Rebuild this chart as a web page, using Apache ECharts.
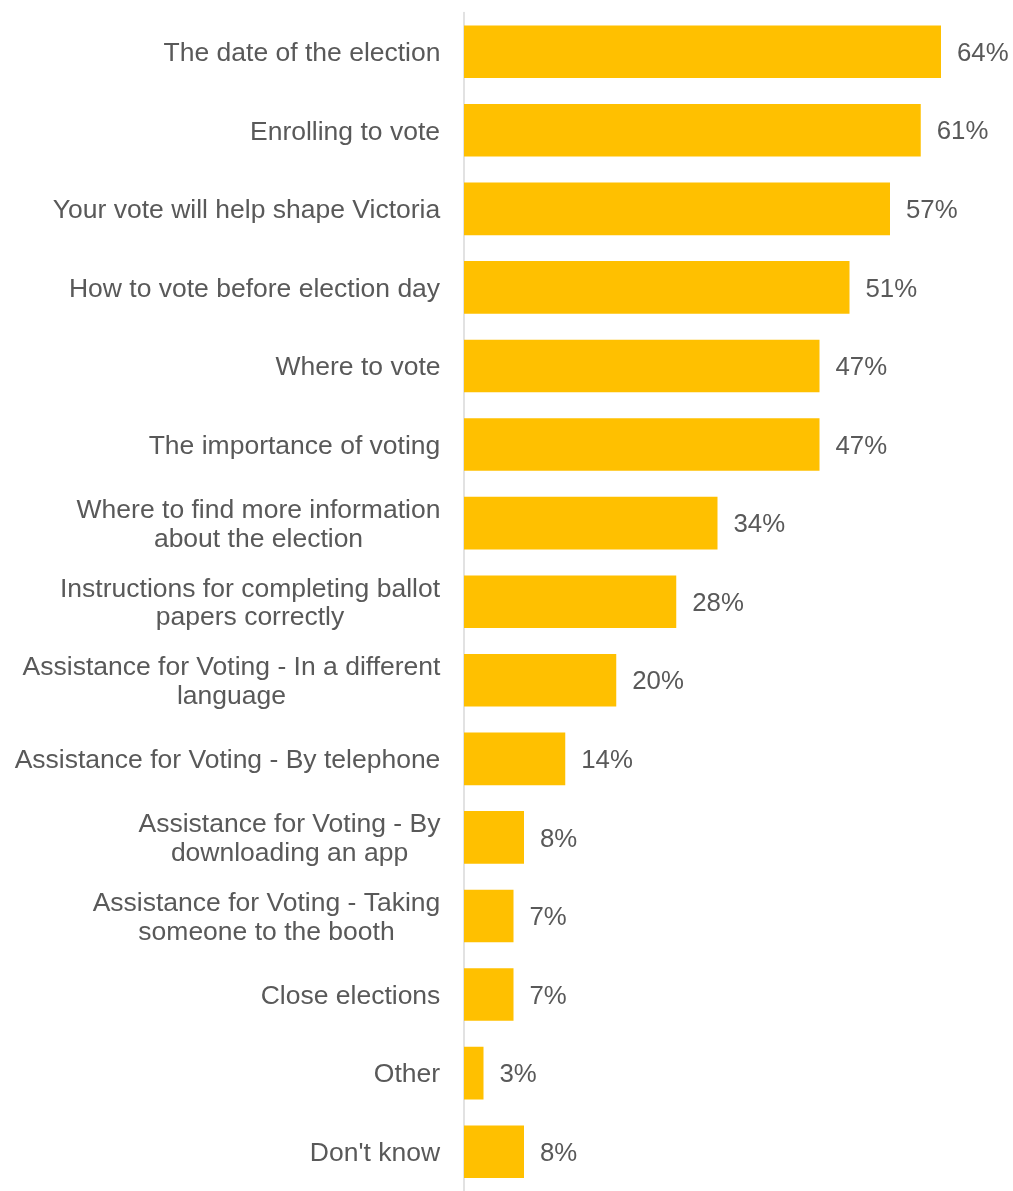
<!DOCTYPE html>
<html>
<head>
<meta charset="utf-8">
<script src="https://cdn.jsdelivr.net/npm/echarts@6/dist/echarts.min.js"></script>
<style>
html,body{margin:0;padding:0;background:#fff;}
#chart{width:1013px;height:1191px;}
</style>
</head>
<body>
<div id="chart"></div>
<script>
const categories = [
  "The date of the election",
  "Enrolling to vote",
  "Your vote will help shape Victoria",
  "How to vote before election day",
  "Where to vote",
  "The importance of voting",
  "Where to find more information\nabout the election",
  "Instructions for completing ballot\npapers correctly",
  "Assistance for Voting - In a different\nlanguage",
  "Assistance for Voting - By telephone",
  "Assistance for Voting - By\ndownloading an app",
  "Assistance for Voting - Taking\nsomeone to the booth",
  "Close elections",
  "Other",
  "Don't know"
];
const values = [63.6, 60.9, 56.8, 51.4, 47.4, 47.4, 33.8, 28.3, 20.3, 13.5, 8.0, 6.6, 6.6, 2.6, 8.0];

const font = '"Liberation Sans", Arial, sans-serif';
const catFontSize = 26.5;
const catColor = '#595959';
const catLineHeight = 28.5;

// rich styles so that multi-line labels are centred within their block
const ctx = document.createElement('canvas').getContext('2d');
ctx.font = catFontSize + 'px ' + font;
const rich = {};
categories.forEach((c, i) => {
  const w = Math.max(...c.split('\n').map(l => ctx.measureText(l).width));
  rich['r' + i] = {
    width: Math.ceil(w) + 1, align: 'center',
    fontSize: catFontSize, color: catColor, fontFamily: font, lineHeight: catLineHeight
  };
});

const chart = echarts.init(document.getElementById('chart'), null, {renderer: 'canvas'});
chart.setOption({
  animation: false,
  grid: {left: 464, right: 9, top: 12.4, bottom: -8.3, containLabel: false},
  xAxis: {
    type: 'value', min: 0, max: 72, show: false
  },
  yAxis: {
    type: 'category',
    data: categories,
    inverse: true,
    axisTick: {show: false},
    axisLine: {show: true, lineStyle: {color: '#d9d9d9', width: 1.5}},
    axisLabel: {
      margin: 23, fontSize: catFontSize, color: catColor, fontFamily: font,
      align: 'right', lineHeight: catLineHeight, padding: [4, 0, 0, 0],
      formatter: (val, idx) => val.split('\n').map(l => '{r' + idx + '|' + l + '}').join('\n'),
      rich: rich
    },
    splitLine: {show: false}
  },
  series: [{
    type: 'bar',
    data: values,
    barWidth: 52.6,
    itemStyle: {color: '#FFC000'},
    label: {
      show: true, position: 'right', distance: 16, offset: [0, 2],
      fontSize: 25.8, color: '#595959', fontFamily: font,
      formatter: p => Math.round(p.value) + '%'
    }
  }]
});
</script>
</body>
</html>
